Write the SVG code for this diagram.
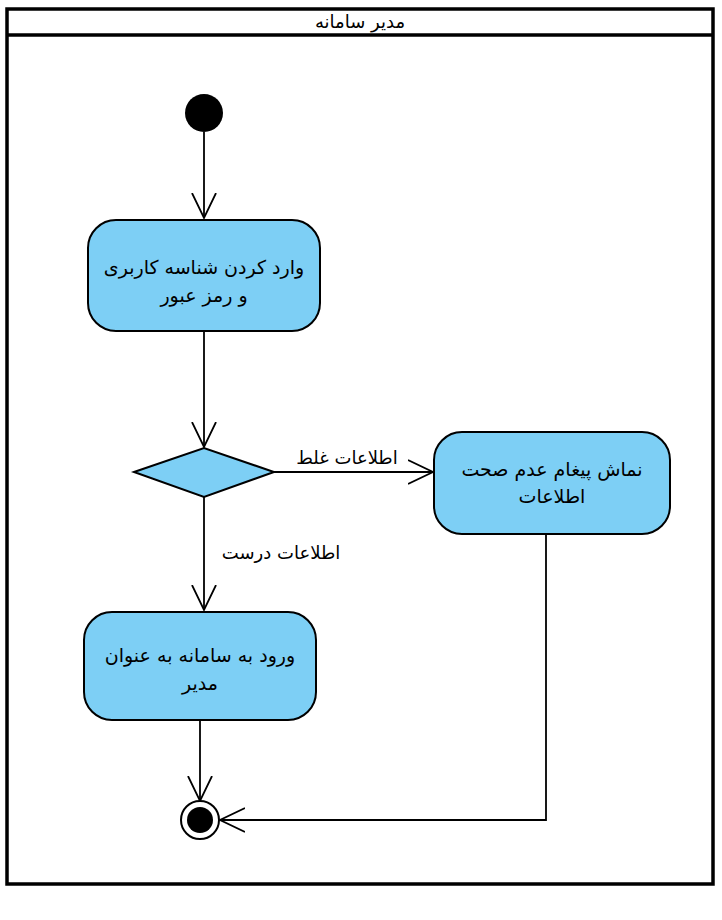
<svg xmlns="http://www.w3.org/2000/svg" width="722" height="920" viewBox="0 0 722 920">
<defs>
<style>
.frame{fill:none;stroke:#000;stroke-width:3.5}
.act{fill:#7dcff5;stroke:#000;stroke-width:2}
.t{font-family:"DejaVu Sans","Noto Sans",sans-serif;font-size:19px;fill:#000;text-anchor:middle;direction:rtl}
.lbl{font-family:"DejaVu Sans","Noto Sans",sans-serif;font-size:18px;fill:#000;text-anchor:middle;direction:rtl}
.edge{fill:none;stroke:#000;stroke-width:1.8}
</style>
<marker id="arr" markerWidth="30" markerHeight="30" refX="25" refY="12" orient="auto" markerUnits="userSpaceOnUse" viewBox="0 0 30 24">
<path d="M0,0 L25,12 L0,24" fill="none" stroke="#000" stroke-width="1.8"/>
</marker>
</defs>
<rect width="722" height="920" fill="#fff"/>
<g id="swimlane">
<rect class="frame" x="7" y="9" width="706" height="875"/>
<line x1="7" y1="35" x2="713" y2="35" stroke="#000" stroke-width="3.5"/>
<text class="lbl" x="360" y="28">مدیر سامانه</text>
</g>
<g id="connectors">
<path class="edge" d="M204,132 L204,218" marker-end="url(#arr)"/>
<path class="edge" d="M204,331 L204,447" marker-end="url(#arr)"/>
<path class="edge" d="M274,472 L433,472" marker-end="url(#arr)"/>
<path class="edge" d="M204,497 L204,610" marker-end="url(#arr)"/>
<path class="edge" d="M200,720 L200,801" marker-end="url(#arr)"/>
<path class="edge" d="M546,534 L546,820 L220,820" marker-end="url(#arr)"/>
<text class="lbl" x="347" y="464">اطلاعات غلط</text>
<text class="lbl" x="281" y="559">اطلاعات درست</text>
</g>
<g id="start">
<circle cx="204" cy="113" r="19" fill="#000"/>
</g>
<g id="enter">
<rect class="act" x="88" y="220" width="232" height="111" rx="28"/>
<text class="t" x="204" y="274">وارد کردن شناسه کاربری</text>
<text class="t" x="204" y="302">و رمز عبور</text>
</g>
<g id="decision">
<polygon class="act" points="134,472 204,448 274,472 204,497"/>
</g>
<g id="error">
<rect class="act" x="434" y="432" width="236" height="102" rx="28"/>
<text class="t" x="552" y="476">نماش پیغام عدم صحت</text>
<text class="t" x="552" y="503">اطلاعات</text>
</g>
<g id="login">
<rect class="act" x="84" y="612" width="232" height="108" rx="28"/>
<text class="t" x="200" y="662">ورود به سامانه به عنوان</text>
<text class="t" x="200" y="690">مدیر</text>
</g>
<g id="end">
<circle cx="200" cy="820" r="19" fill="#fff" stroke="#000" stroke-width="2"/>
<circle cx="200" cy="820" r="13" fill="#000"/>
</g>
</svg>
